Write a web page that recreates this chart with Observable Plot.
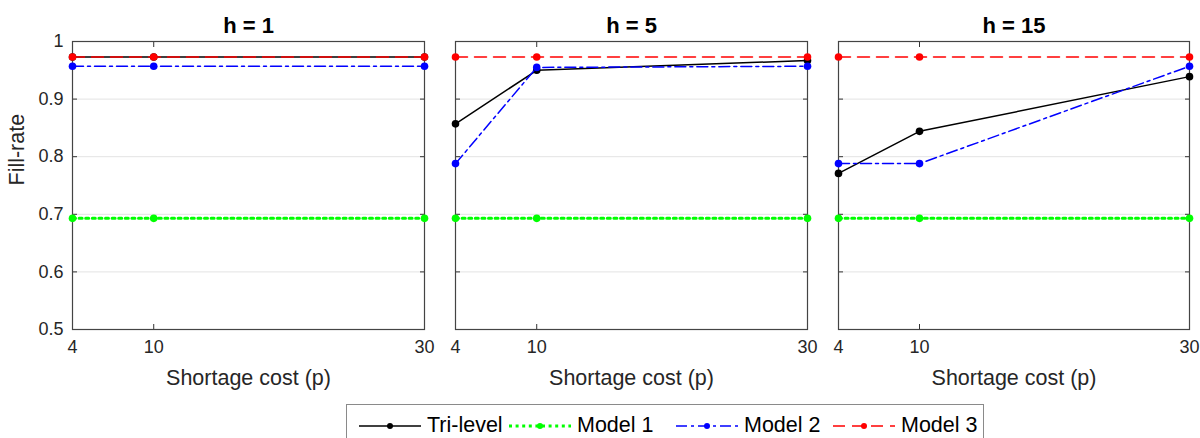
<!DOCTYPE html>
<html><head><meta charset="utf-8">
<script src="https://cdn.jsdelivr.net/npm/d3@7"></script>
<script src="https://cdn.jsdelivr.net/npm/@observablehq/plot@0.6"></script>
<style>
body{margin:0;background:#fff;font-family:"Liberation Sans",Arial,sans-serif;}
#wrap{position:relative;width:1200px;height:438px;overflow:hidden;background:#fff;}
#panels{display:flex;position:absolute;left:0;top:0;}
#panels svg{overflow:visible;}
#legend{position:absolute;left:346px;top:404px;width:638px;height:44px;border:1px solid #8a8a8a;background:#fff;box-sizing:border-box;}
.item{position:absolute;top:8px;display:flex;align-items:center;font-size:21.5px;color:#000;white-space:nowrap;}
.item svg{margin-right:6px;}
</style></head>
<body><div id="wrap"><div id="panels"></div><div id="legend"></div></div>
<script>
// ---- data ----
const hLabels = ["h = 1", "h = 5", "h = 15"];
const pValues = [4, 10, 30];
const yTicks = [0.5, 0.6, 0.7, 0.8, 0.9, 1];
const seriesNames = ["Tri-level", "Model 1", "Model 2", "Model 3"];
const triLevel = [[0.973, 0.973, 0.973], [0.857, 0.950, 0.967], [0.771, 0.844, 0.939]];
const model1   = [[0.693, 0.693, 0.693], [0.693, 0.693, 0.693], [0.693, 0.693, 0.693]];
const model2   = [[0.957, 0.957, 0.957], [0.788, 0.955, 0.957], [0.788, 0.788, 0.957]];
const model3   = [[0.973, 0.973, 0.973], [0.973, 0.973, 0.973], [0.973, 0.973, 0.973]];
const xLabel = "Shortage cost (p)";
const yLabel = "Fill-rate";

// ---- styles ----
const seriesValues = [triLevel, model1, model2, model3];
const seriesStyle = [
  {color: "#000000", width: 1.5, dash: null},
  {color: "#00ff00", width: 3, dash: "3,3.6"},
  {color: "#0000ff", width: 1.5, dash: "11,4,3,4"},
  {color: "#ff0000", width: 1.5, dash: "12,7"}
];
const panelLayout = [
  {width: 440, ml: 72, mr: 16},
  {width: 383, ml: 15, mr: 16},
  {width: 377, ml: 15, mr: 11}
];

function panel(i) {
  const L = panelLayout[i];
  const marks = [
    Plot.gridY({ticks: yTicks.slice(1, -1), stroke: "#e3e3e3", strokeOpacity: 1}),
    // inward ticks on all four sides
    Plot.axisX({ticks: pValues, anchor: "bottom", tickSize: 5, dy: -5, fill: "none", label: null, stroke: "#333"}),
    Plot.axisX({ticks: pValues, anchor: "top", tickSize: 5, dy: 5, fill: "none", label: null, stroke: "#333"}),
    Plot.axisY({ticks: yTicks, anchor: "left", tickSize: 5, dx: 5, fill: "none", label: null, stroke: "#333"}),
    Plot.axisY({ticks: yTicks, anchor: "right", tickSize: 5, dx: -5, fill: "none", label: null, stroke: "#333"}),
    Plot.frame({stroke: "#444", strokeWidth: 1.2}),
    Plot.axisX({ticks: pValues, anchor: "bottom", tickSize: 0, tickPadding: 11, fontSize: 18, label: null, fill: "#262626"}),
    Plot.text([xLabel], {text: d => d, frameAnchor: "bottom", lineAnchor: "middle", dy: 49, fontSize: 21.5, fill: "#262626"}),
    Plot.text([hLabels[i]], {text: d => d, frameAnchor: "top", lineAnchor: "middle", dy: -16, fontSize: 22, fontWeight: "bold", fill: "#000"})
  ];
  if (i === 0) {
    marks.push(
      Plot.axisY({ticks: yTicks, anchor: "left", tickSize: 0, tickPadding: 9, tickFormat: d => String(d), fontSize: 18, label: null, fill: "#262626"}),
      Plot.text([yLabel], {text: d => d, frameAnchor: "left", lineAnchor: "middle", rotate: -90, dx: -55, fontSize: 21.5, fill: "#262626"})
    );
  }
  seriesValues.forEach((vals, s) => {
    const rows = pValues.map((p, j) => ({p, v: vals[i][j]}));
    const st = seriesStyle[s];
    marks.push(
      Plot.line(rows, {x: "p", y: "v", stroke: st.color, strokeWidth: st.width, strokeDasharray: st.dash}),
      Plot.dot(rows, {x: "p", y: "v", r: 3.8, fill: st.color, stroke: "none"})
    );
  });
  return Plot.plot({
    width: L.width, height: 395,
    marginTop: 41, marginBottom: 66, marginLeft: L.ml, marginRight: L.mr,
    style: {fontFamily: "'Liberation Sans', Arial, sans-serif", color: "#262626", background: "transparent", overflow: "visible"},
    x: {domain: [4, 30], axis: null},
    y: {domain: [0.5, 1], axis: null},
    marks
  });
}

const host = document.getElementById("panels");
hLabels.forEach((h, i) => host.appendChild(panel(i)));

// ---- legend ----
const legendLeft = [12, 162, 329, 486];
const legend = document.getElementById("legend");
seriesNames.forEach((name, s) => {
  const st = seriesStyle[s];
  const item = document.createElement("div");
  item.className = "item";
  item.style.left = legendLeft[s] + "px";
  const w = 62;
  item.innerHTML =
    `<svg width="${w}" height="14"><line x1="0" x2="${w}" y1="7" y2="7" stroke="${st.color}" stroke-width="${st.width}" ${st.dash ? `stroke-dasharray="${st.dash}"` : ""}/>` +
    `<circle cx="${w / 2}" cy="7" r="3" fill="${st.color}"/></svg><span>${name}</span>`;
  legend.appendChild(item);
});
</script>
</body></html>
